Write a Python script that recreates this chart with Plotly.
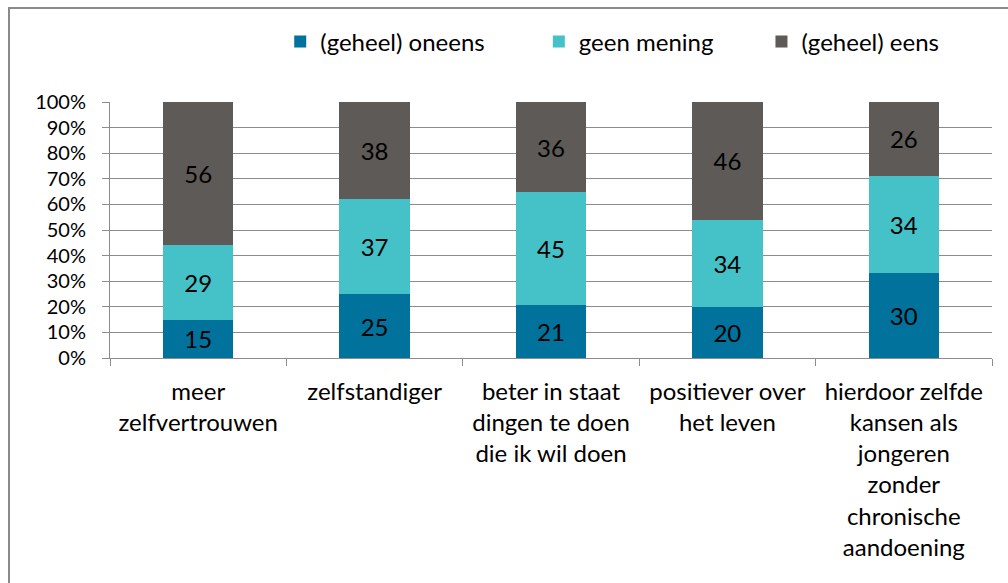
import plotly.graph_objects as go

categories = [
    "meer<br>zelfvertrouwen",
    "zelfstandiger",
    "beter in staat<br>dingen te doen<br>die ik wil doen",
    "positiever over<br>het leven",
    "hierdoor zelfde<br>kansen als<br>jongeren<br>zonder<br>chronische<br>aandoening",
]
oneens = [15, 25, 21, 20, 30]
geen_mening = [29, 37, 45, 34, 34]
eens = [56, 38, 36, 46, 26]
series_names = ["(geheel) oneens", "geen mening", "(geheel) eens"]
colors = ["#00729C", "#44C2C7", "#5E5A57"]
y_ticks = [0, 10, 20, 30, 40, 50, 60, 70, 80, 90, 100]

FONT = "Lato"
FS = 24
GRID = "#8C8C8C"
PADS = ["\u00a0" * 8, "\u00a0" * 7, ""]

fig = go.Figure()
for name, vals, col, pad in zip(series_names, [oneens, geen_mening, eens], colors, PADS):
    fig.add_trace(go.Bar(
        x=categories, y=vals, name=name + pad,
        marker=dict(color=col, line=dict(width=0)),
        text=[str(v) for v in vals], textposition="inside",
        insidetextanchor="middle",
        textfont=dict(family=FONT, size=FS, color="#000000"),
        hoverinfo="skip",
    ))

fig.update_layout(
    barmode="stack", barnorm="percent", bargap=0.6,
    width=1008, height=583,
    margin=dict(l=110, r=16, t=102, b=225),
    paper_bgcolor="white", plot_bgcolor="white",
    font=dict(family=FONT, size=FS, color="#000000"),
    uniformtext=dict(minsize=FS, mode="show"),
    legend=dict(
        orientation="h", x=0.193, xanchor="left", y=1.235, yanchor="middle",
        font=dict(family=FONT, size=FS, color="#000000"),
        itemwidth=30, traceorder="normal", bgcolor="rgba(0,0,0,0)",
    ),
    showlegend=True,
)
fig.update_yaxes(
    range=[0, 100], tickvals=y_ticks, ticktext=[f"{v}%" for v in y_ticks],
    tickfont=dict(family=FONT, size=20, color="#000000"),
    showgrid=True, gridcolor=GRID, gridwidth=1,
    showline=True, linecolor=GRID, linewidth=1,
    ticks="outside", ticklen=7, tickcolor=GRID, ticklabelstandoff=12,
    zeroline=False, fixedrange=True,
)
fig.update_xaxes(
    showline=True, linecolor=GRID, linewidth=1,
    ticks="outside", ticklen=7, tickcolor=GRID, tickson="boundaries",
    ticklabelstandoff=12,
    tickangle=0, showgrid=False, fixedrange=True,
)
# outer chart frame
fig.add_shape(type="rect", xref="paper", yref="paper",
              x0=-0.1145, x1=1.05, y0=-0.95, y1=1.367,
              line=dict(color="#8A8A8A", width=2), fillcolor="rgba(0,0,0,0)", layer="below")

fig.write_html(
    "out.html",
    config={"displayModeBar": False, "staticPlot": True},
    post_script="document.body.style.margin='0';document.body.style.overflow='hidden';",
)
